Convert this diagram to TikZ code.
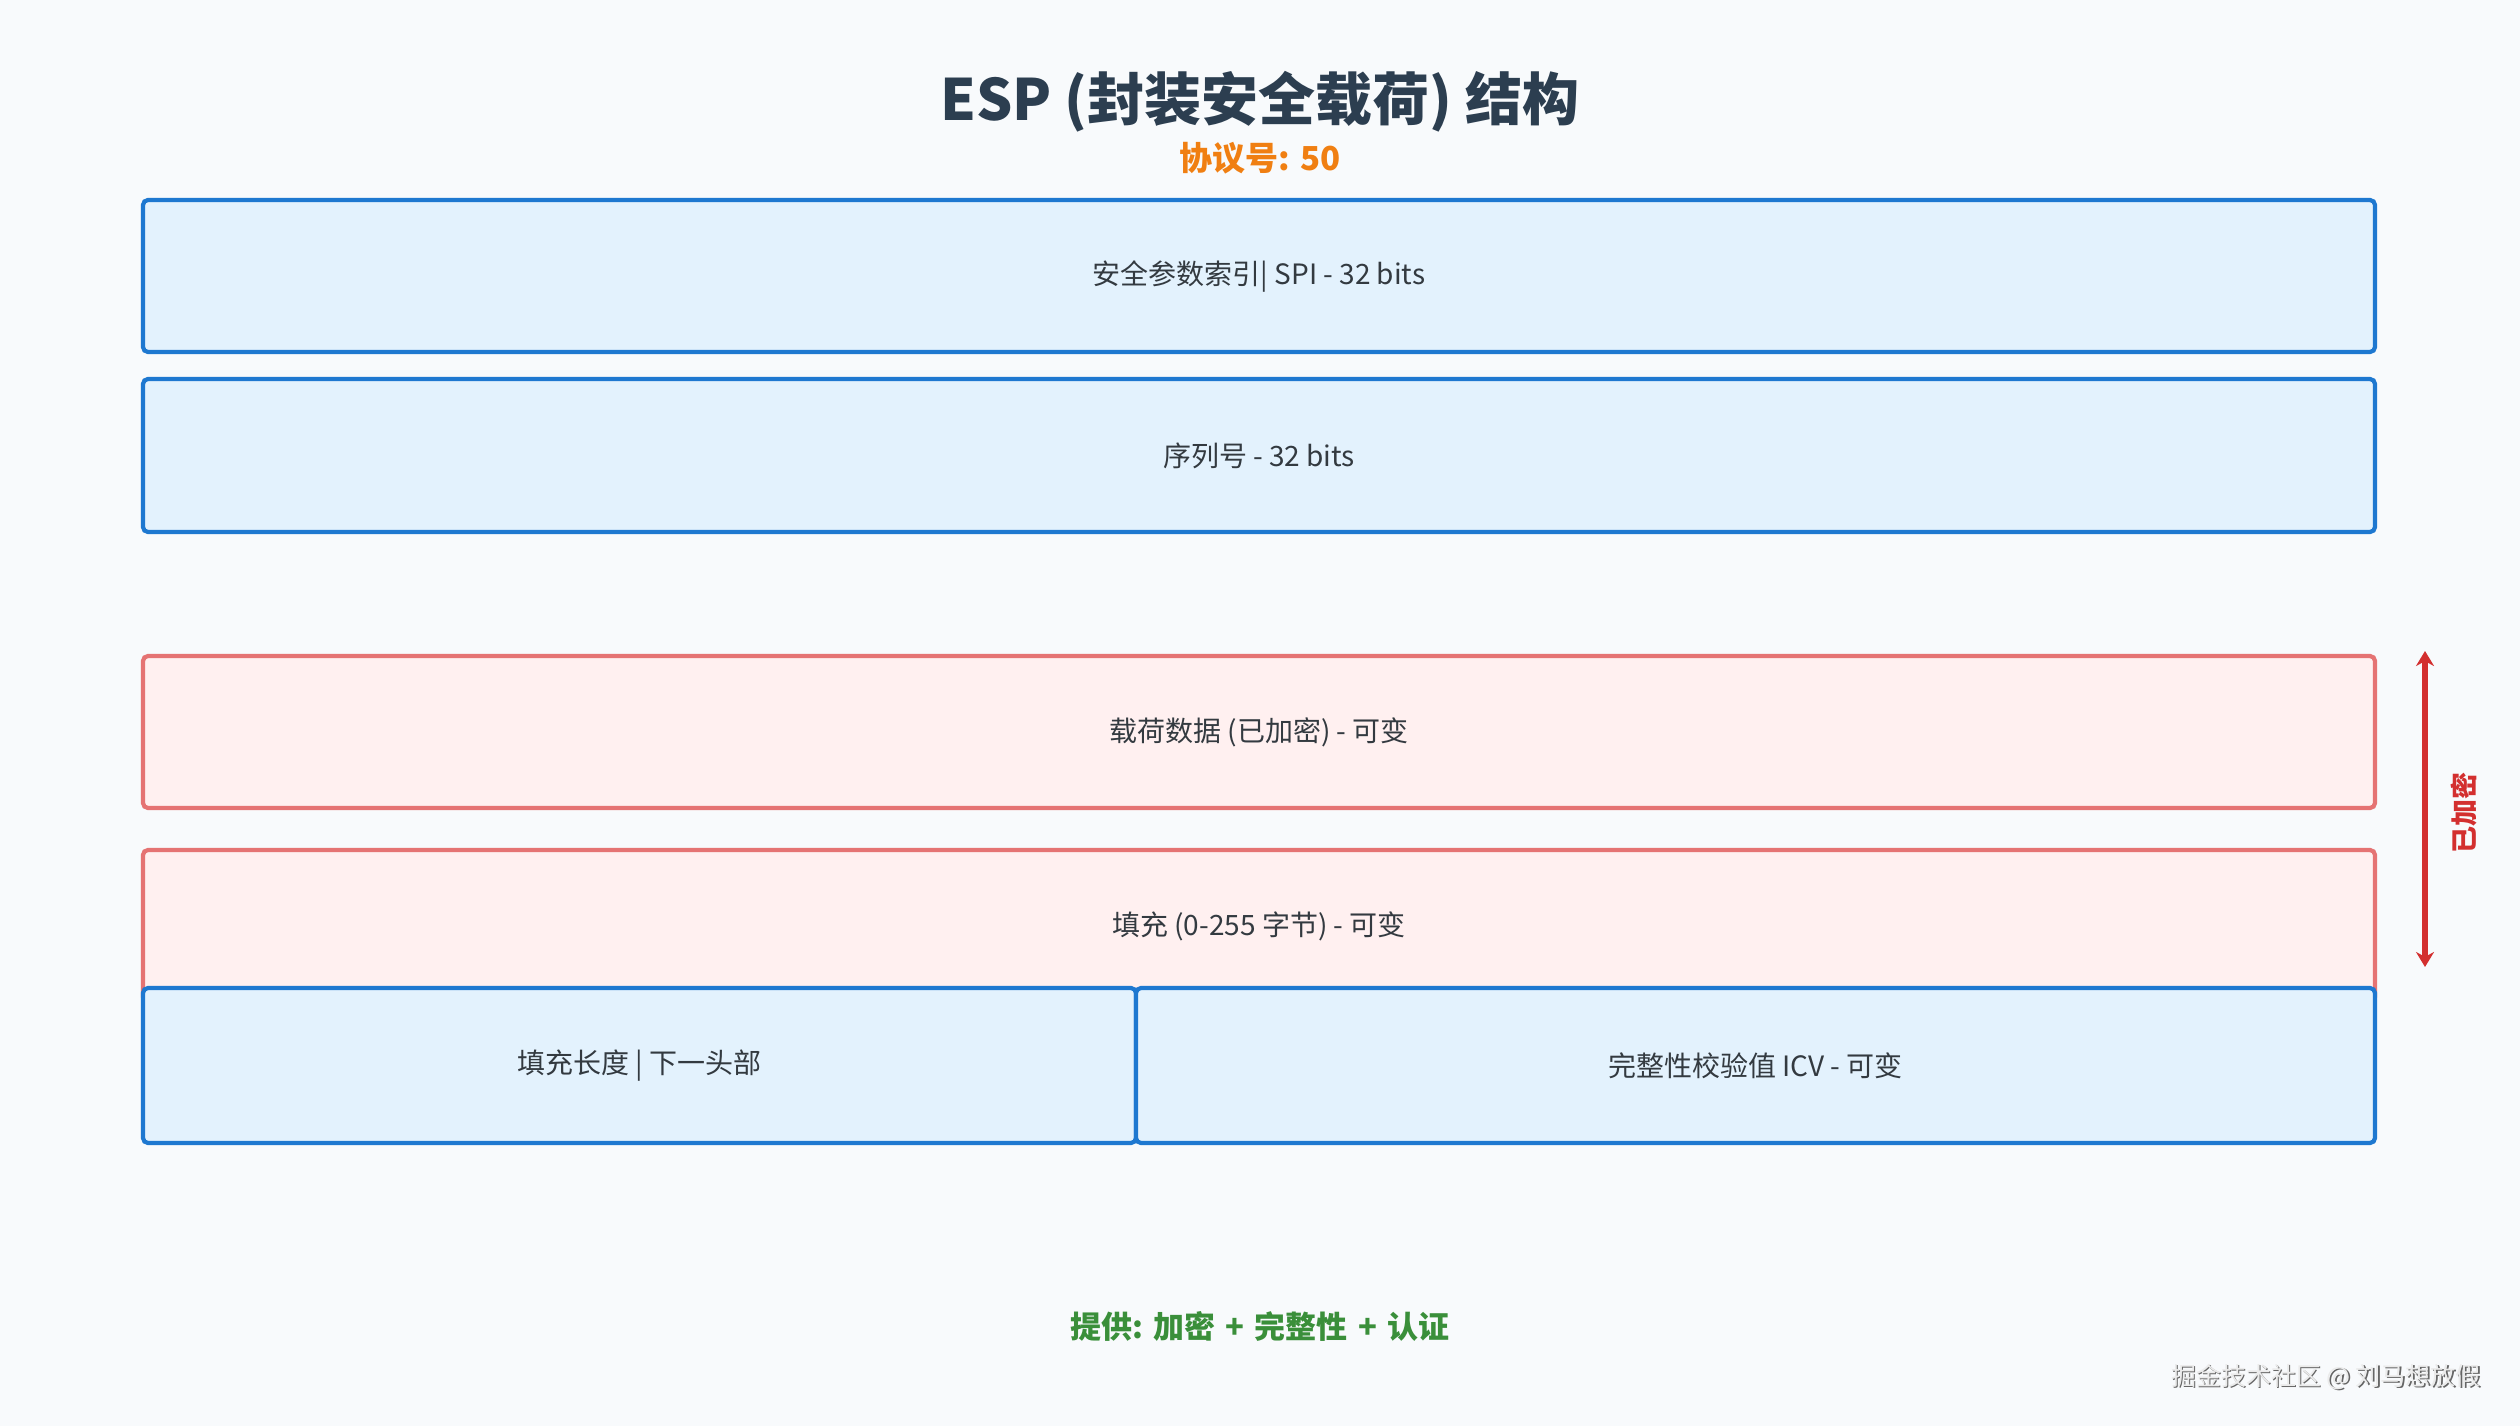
\documentclass[tikz,border=0pt]{standalone}
\usepackage{fontspec}
\setmainfont{Noto Sans CJK SC}
\usetikzlibrary{arrows.meta}
\definecolor{bgc}{HTML}{F8FAFC}
\definecolor{bluefill}{HTML}{E3F2FD}
\definecolor{blueline}{HTML}{1E78D0}
\definecolor{redfill}{HTML}{FFF0F0}
\definecolor{redline}{HTML}{E57373}
\definecolor{titlec}{HTML}{2C3E50}
\definecolor{txtc}{HTML}{333A40}
\definecolor{orangec}{HTML}{F07F12}
\definecolor{greenc}{HTML}{3A8F3A}
\definecolor{arrowc}{HTML}{D32F2F}
\tikzset{
  field/.style={rounded corners=5pt, line width=4.2pt, text=txtc, inner sep=0pt,
    font=\fontsize{28}{34}\selectfont},
  bluebox/.style={field, draw=blueline, fill=bluefill},
  redbox/.style={field, draw=redline, fill=redfill},
}
\begin{document}
\begin{tikzpicture}[x=1pt,y=-1pt]
\fill[bgc] (0,0) rectangle (2520,1426);
\useasboundingbox (0,0) rectangle (2520,1426);
\node[text=titlec, font=\fontsize{57}{68}\selectfont\bfseries] (title) at (1260,102) {ESP (封装安全载荷) 结构};
\node[text=orangec, font=\fontsize{33}{40}\selectfont\bfseries] (proto) at (1260,158) {协议号: 50};
\node[bluebox, minimum width=2232pt, minimum height=152pt] (spi) at (1259,276) {安全参数索引| SPI - 32 bits};
\node[bluebox, minimum width=2232pt, minimum height=153pt] (seq) at (1259,455.5) {序列号 - 32 bits};
\node[redbox, minimum width=2232pt, minimum height=152pt] (payload) at (1259,732) {载荷数据 (已加密) - 可变};
\node[redbox, minimum width=2232pt, minimum height=152pt] (pad) at (1259,926) {};
\node[text=txtc, font=\fontsize{28}{34}\selectfont] (padtxt) at (1259,926) {填充 (0-255 字节) - 可变};
\node[bluebox, minimum width=993pt, minimum height=155pt] (padlen) at (639.5,1065.5) {填充长度 | 下一头部};
\node[bluebox, minimum width=1239pt, minimum height=155pt] (icv) at (1755.5,1065.5) {完整性校验值 ICV - 可变};
\coordinate (atop) at (2425,651);
\coordinate (abot) at (2425,967);
\draw[arrowc, line width=6pt, {Stealth[length=15pt,width=18pt]}-{Stealth[length=15pt,width=18pt]}] (atop) -- (abot);
\node[text=arrowc, rotate=90, font=\fontsize{27}{32}\selectfont\bfseries] (enc) at (2464,813) {已加密};
\node[text=greenc, font=\fontsize{31}{38}\selectfont\bfseries] (provide) at (1260,1326) {提供: 加密\,\,+\,\,完整性\,\,+\,\,认证};
\node[text=black!60, font=\fontsize{25}{30}\selectfont, anchor=east] (wm0) at (2486,1378.5) {掘金技术社区 @ 刘马想放假};
\node[text=black!8, font=\fontsize{25}{30}\selectfont, anchor=east] (wm) at (2484.5,1377) {掘金技术社区 @ 刘马想放假};
\end{tikzpicture}
\end{document}
